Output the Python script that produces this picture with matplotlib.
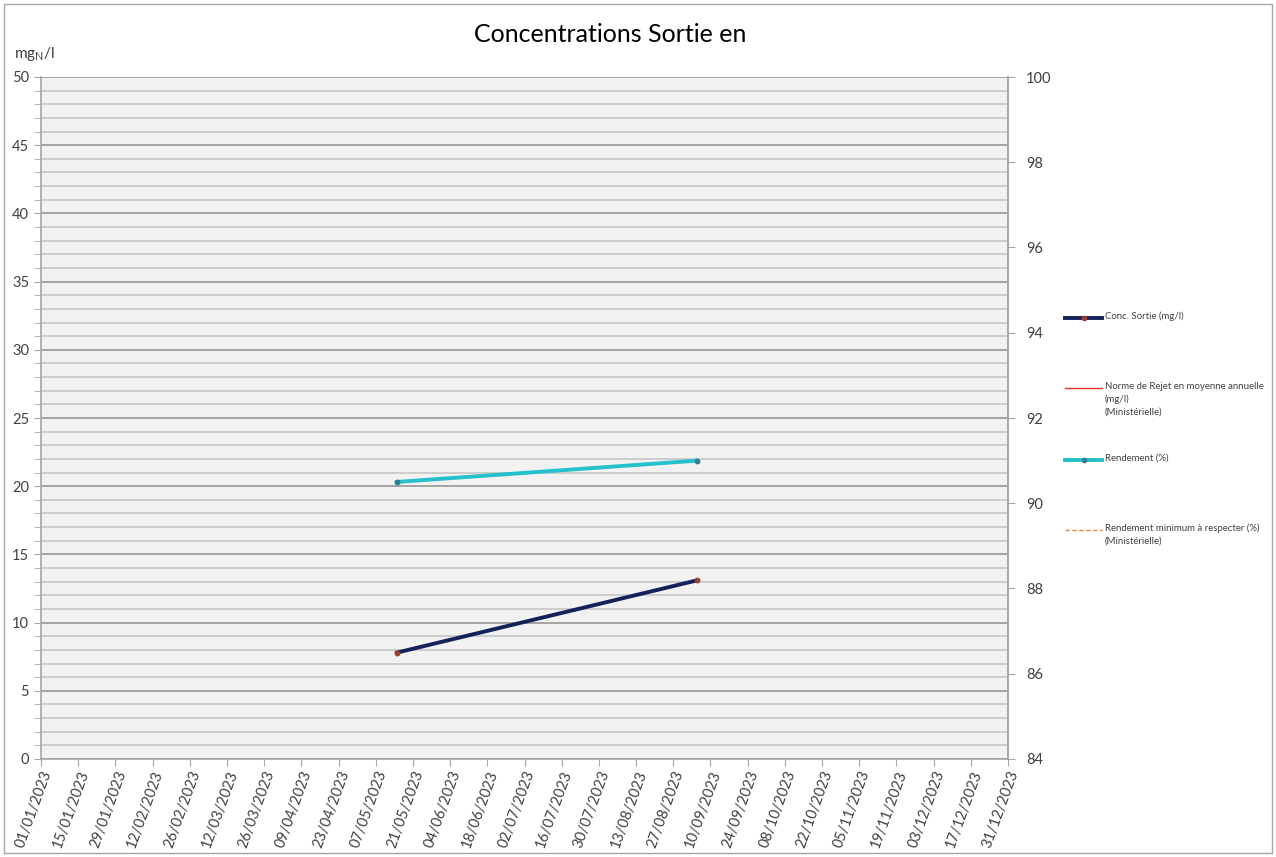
import datetime as dt
import matplotlib
matplotlib.use("Agg")
import matplotlib.pyplot as plt
import matplotlib.dates as mdates
from matplotlib.lines import Line2D
from matplotlib.patches import Rectangle
from matplotlib.ticker import MultipleLocator, FixedLocator

plt.rcParams['font.family'] = ['Lato', 'DejaVu Sans']

# Sample dates and measured values
sample_dates = ["2023-05-15", "2023-09-05"]
conc_sortie = [7.8, 13.1]          # mg/l
rendement = [90.5, 91.0]           # %

title = "Concentrations Sortie en"
legend_labels = [
    "Conc. Sortie (mg/l)",
    "Norme de Rejet en moyenne annuelle\n(mg/l)\n(Ministérielle)",
    "Rendement (%)",
    "Rendement minimum à respecter (%)\n(Ministérielle)",
]

dates = [dt.datetime.strptime(d, "%Y-%m-%d") for d in sample_dates]

W, H = 1276, 857
fig = plt.figure(figsize=(W / 100, H / 100), dpi=100)
fig.patch.set_facecolor("white")

ax = fig.add_axes([41 / W, 1 - 759 / H, (1008 - 41) / W, (759 - 77) / H])
ax.set_facecolor("#F2F2F2")

start = dt.datetime(2023, 1, 1)
end = dt.datetime(2023, 12, 31)
ax.set_xlim(start, end)
ax.set_ylim(0, 50)

grid_minor = "#C2C2C2"
grid_major = "#8E8E8E"
spine_col = "#A6A6A6"
txt_col = "#404040"

ax.yaxis.set_major_locator(MultipleLocator(5))
ax.yaxis.set_minor_locator(MultipleLocator(1))
ax.grid(which="minor", axis="y", color=grid_minor, lw=1.1)
ax.grid(which="major", axis="y", color=grid_major, lw=1.1)
ax.grid(False, axis="x")
ax.set_axisbelow(True)

# Date ticks every two weeks across the year
tick_dates = [start + dt.timedelta(days=14 * i) for i in range(27)]
ax.xaxis.set_major_locator(FixedLocator(mdates.date2num(tick_dates)))
ax.xaxis.set_major_formatter(mdates.DateFormatter("%d/%m/%Y"))
ax.tick_params(axis="x", which="major", direction="out", length=5, color=spine_col,
               labelsize=10.5, labelcolor=txt_col, pad=2)
plt.setp(ax.get_xticklabels(), rotation=70, ha="right", va="top", rotation_mode="anchor")
ax.tick_params(axis="y", which="both", direction="out", length=5, color=spine_col,
               labelsize=10.5, labelcolor=txt_col)

ax.spines["top"].set_visible(False)
for s in ["left", "bottom", "right"]:
    ax.spines[s].set_color(spine_col)
    ax.spines[s].set_linewidth(1.2)

ax.plot(dates, conc_sortie, color="#14215A", lw=2.8, marker="o", ms=3.2,
        mfc="#A0402A", mec="#A0402A", zorder=3)

ax2 = ax.twinx()
ax2.set_ylim(84, 100)
ax2.yaxis.set_major_locator(MultipleLocator(2))
ax2.tick_params(axis="y", direction="out", length=5, color=spine_col,
                labelsize=10.5, labelcolor=txt_col, pad=8)
for s in ["top", "left", "bottom"]:
    ax2.spines[s].set_visible(False)
ax2.spines["right"].set_color(spine_col)
ax2.spines["right"].set_linewidth(1.2)
ax2.plot(dates, rendement, color="#25C0CE", lw=2.8, marker="o", ms=3.2,
         mfc="#2F7F99", mec="#2F7F99", zorder=3)

# Title and unit label
fig.text(610 / W, 1 - 34 / H, title, ha="center", va="center", fontsize=18, color="black")
fig.text(14 / W, 1 - 54 / H, r"mg$_\mathregular{N}$/l", ha="left", va="center",
         fontsize=11, color=txt_col)

# Legend at the right of the plot
handles = [
    dict(color="#14215A", lw=2.8, ls="-", mk="#A0402A"),
    dict(color="#E8302A", lw=1.0, ls="-", mk=None),
    dict(color="#25C0CE", lw=2.8, ls="-", mk="#2F7F99"),
    dict(color="#F08030", lw=1.0, ls=(0, (3, 2)), mk=None),
]
rows_y = [318, 388, 460, 530]
x0, x1 = 1065, 1102
for h, lab, yy in zip(handles, legend_labels, rows_y):
    yf = 1 - yy / H
    ln = Line2D([x0 / W, (x0 + x1) / 2 / W, x1 / W], [yf, yf, yf], color=h["color"],
                lw=h["lw"], ls=h["ls"], transform=fig.transFigure)
    if h["mk"]:
        ln.set_marker("o")
        ln.set_markersize(3)
        ln.set_markevery([1])
        ln.set_markerfacecolor(h["mk"])
        ln.set_markeredgecolor(h["mk"])
    fig.add_artist(ln)
    fig.text(1105 / W, yf + 6.5 / H, lab, ha="left", va="top", fontsize=6.9,
             color=txt_col, linespacing=1.55)

# Chart frame
fig.add_artist(Rectangle((4 / W, 4 / H), (W - 8) / W, (H - 8) / H, transform=fig.transFigure,
                         fill=False, ec="#A6A6A6", lw=1.0))

fig.savefig("out.png", dpi=100)
